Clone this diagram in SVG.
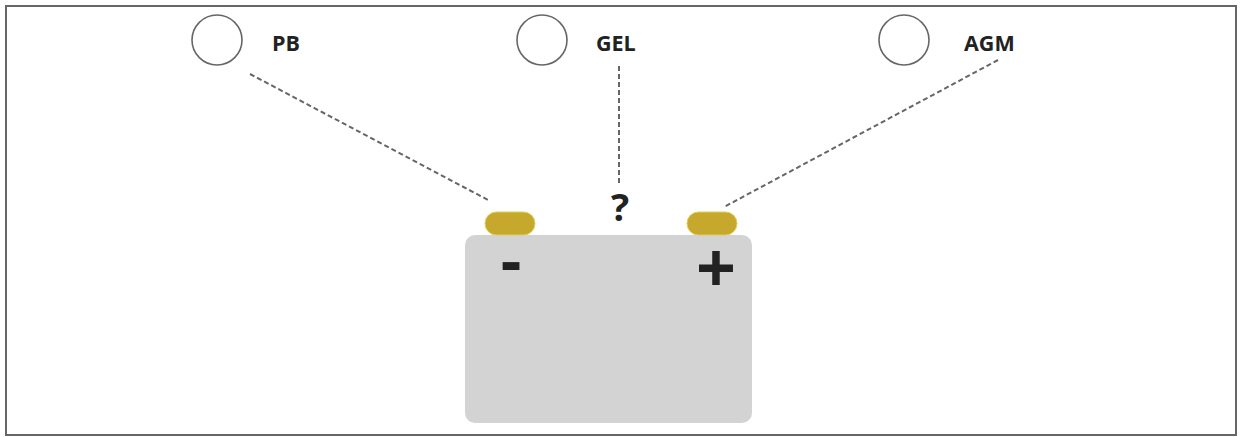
<svg xmlns="http://www.w3.org/2000/svg" width="1240" height="437" viewBox="0 0 1240 437">
<style>
.lbl{font-family:"Open Sans","Liberation Sans",sans-serif;font-weight:bold;font-size:21.5px;fill:#222}
.sym{font-family:"Open Sans","Liberation Sans",sans-serif;font-weight:bold;fill:#222;text-anchor:middle}
.ring{fill:#fff;stroke:#666;stroke-width:1.6}
.term{fill:#c6a82c;stroke:#e2cf5a;stroke-width:1}
.conn{fill:none;stroke:#666;stroke-width:2;stroke-dasharray:5 3}
</style>
<rect x="0" y="0" width="1240" height="437" fill="#fff"/>
<rect x="6" y="6" width="1230" height="429" fill="none" stroke="#666" stroke-width="2"/>
<g id="connectors">
<line class="conn" x1="250" y1="74" x2="490" y2="201"/>
<line class="conn" x1="619" y1="66" x2="619" y2="186"/>
<line class="conn" x1="998" y1="60" x2="724" y2="207"/>
</g>
<g id="node-pb">
<circle class="ring" cx="217" cy="40" r="25"/>
<text class="lbl" x="272" y="51">PB</text>
</g>
<g id="node-gel">
<circle class="ring" cx="542" cy="40" r="25"/>
<text class="lbl" x="596" y="51">GEL</text>
</g>
<g id="node-agm">
<circle class="ring" cx="904" cy="40" r="25"/>
<text class="lbl" x="964" y="51">AGM</text>
</g>
<g id="node-battery">
<rect x="465" y="235" width="287" height="188" rx="10" fill="#d3d3d3"/>
<rect class="term" x="485" y="212" width="50" height="23" rx="11.5"/>
<rect class="term" x="687" y="212" width="50" height="23" rx="11.5"/>
<text class="sym" x="511" y="283" font-size="64">-</text>
<text class="sym" x="716" y="293" font-size="70">+</text>
<text class="sym" x="620" y="221" font-size="38">?</text>
</g>
</svg>
